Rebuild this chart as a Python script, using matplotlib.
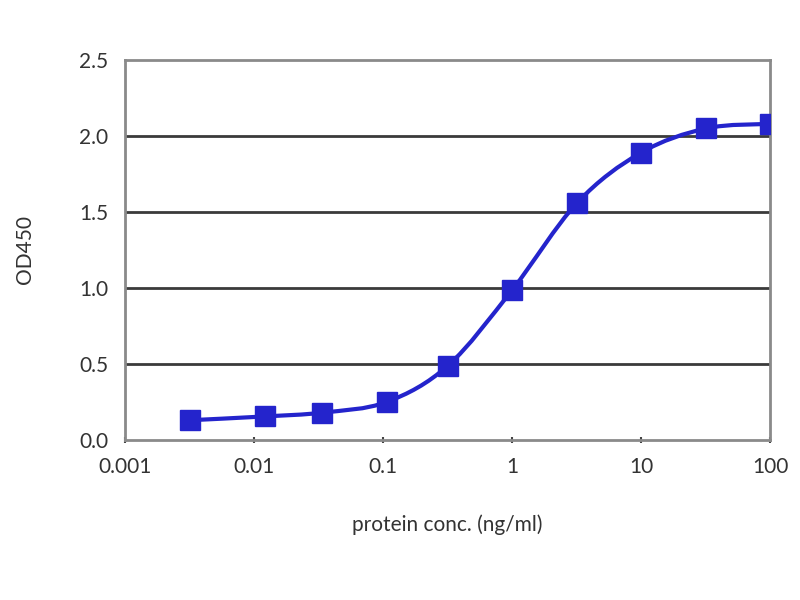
import matplotlib
matplotlib.use('Agg')
import matplotlib.pyplot as plt
import numpy as np
from matplotlib.path import Path
from matplotlib.patches import PathPatch

conc = [0.0032, 0.0122, 0.034, 0.107, 0.32, 1.0, 3.2, 10.0, 32.0, 100.0]
od450 = [0.13, 0.155, 0.18, 0.25, 0.49, 0.985, 1.56, 1.89, 2.05, 2.08]
x_ticks = [0.001, 0.01, 0.1, 1, 10, 100]
x_tick_labels = ['0.001', '0.01', '0.1', '1', '10', '100']
y_ticks = [0.0, 0.5, 1.0, 1.5, 2.0, 2.5]

plt.rcParams['font.family'] = ['Lato', 'DejaVu Sans']

fig = plt.figure(figsize=(8, 6), dpi=100)
ax = fig.add_axes([0.156, 0.2667, 0.8065, 0.6333])
ax.set_xscale('log')
ax.set_xlim(0.001, 100)
ax.set_ylim(0, 2.5)

line_color = '#2424cc'

# smoothed line (Catmull-Rom as cubic Bezier, in log-x space)
lx = np.log10(conc)
yy = np.array(od450)
verts = [(lx[0], yy[0])]
codes = [Path.MOVETO]
n = len(lx)
for i in range(n - 1):
    p0 = (lx[max(i - 1, 0)], yy[max(i - 1, 0)])
    p1 = (lx[i], yy[i])
    p2 = (lx[i + 1], yy[i + 1])
    p3 = (lx[min(i + 2, n - 1)], yy[min(i + 2, n - 1)])
    c1 = (p1[0] + (p2[0] - p0[0]) / 6, p1[1] + (p2[1] - p0[1]) / 6)
    c2 = (p2[0] - (p3[0] - p1[0]) / 6, p2[1] - (p3[1] - p1[1]) / 6)
    verts += [c1, c2, p2]
    codes += [Path.CURVE4] * 3
verts = [(10 ** vx, vy) for vx, vy in verts]
ax.add_patch(PathPatch(Path(verts, codes), facecolor='none',
                       edgecolor=line_color, lw=3, zorder=3))

ax.plot(conc, od450, linestyle='none', marker='s', markersize=14,
        color=line_color, zorder=4)

ax.set_xticks(x_ticks)
ax.set_xticklabels(x_tick_labels)
ax.xaxis.set_minor_locator(matplotlib.ticker.NullLocator())
ax.set_yticks(y_ticks)
ax.set_yticklabels(['%.1f' % v for v in y_ticks])

for v in y_ticks[1:-1]:
    ax.axhline(v, color='#3a3a3a', lw=2, zorder=1)

for s in ax.spines.values():
    s.set_color('#8a8a8a')
    s.set_linewidth(2)

ax.tick_params(axis='x', direction='inout', length=5, width=1.5,
               color='#444444', labelsize=15, labelcolor='#333333', pad=10)
ax.tick_params(axis='y', length=0, labelsize=15, labelcolor='#333333', pad=12)
ax.tick_params(top=False, right=False)

ax.set_xlabel('protein conc. (ng/ml)', fontsize=15, color='#333333', labelpad=27)
ax.set_ylabel('OD450', fontsize=15, color='#333333', labelpad=32)

fig.savefig('out.png', dpi=100)
